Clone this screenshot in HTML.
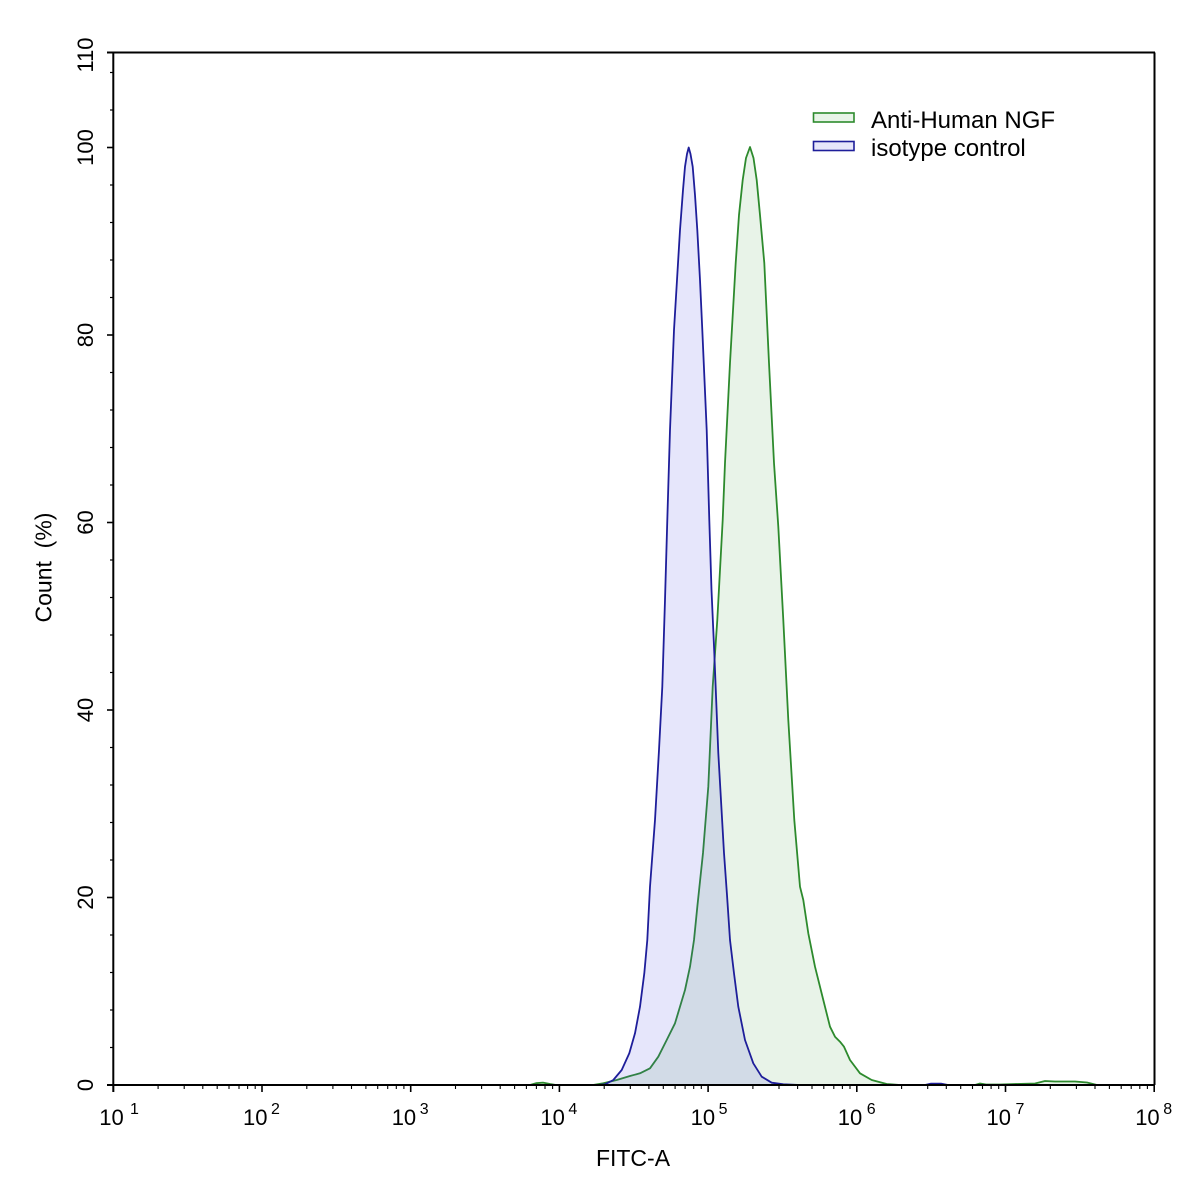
<!DOCTYPE html>
<html>
<head>
<meta charset="utf-8">
<style>
html,body{margin:0;padding:0;background:#fff;}
svg{display:block;}
text{font-family:"Liberation Sans",Arial,sans-serif;fill:#000;}
</style>
</head>
<body>
<svg width="1197" height="1193" viewBox="0 0 1197 1193" xmlns="http://www.w3.org/2000/svg">
<rect x="0" y="0" width="1197" height="1193" fill="#fff"/>

<!-- Green fill (Anti-Human NGF) -->
<path d="M490,1085 L530,1085 L536,1083.2 L543,1082.6 L550,1084 L556,1085 L585,1085 L593,1085 L603.3,1083.3 L616.7,1080 L630,1076 L640,1073.3 L650,1068.3 L658.3,1056.7 L666.7,1040 L675,1023.3 L685,990 L690,966.7 L694,940 L697.5,905 L703,853 L708.3,786.7 L712.7,686.7 L717.3,620 L722.7,520 L725,463 L730,363 L735.7,263 L739,215 L742.7,180 L746,158 L750,147 L753.5,158 L756.7,180 L760,215 L764.3,263 L769,363 L774,463 L778.3,526.7 L783.3,620 L788.3,720 L794.3,820 L800,886.7 L803.3,900 L808.3,933.3 L815,966.7 L823.3,1000 L830,1026.7 L835,1036.7 L840,1041.7 L844,1046.7 L850,1060 L860,1073.3 L871.7,1080 L886.7,1084 L900,1085 L975,1085 L980,1083.5 L986,1084.5 L1000,1084.5 L1015,1084 L1035,1083.5 L1045,1081 L1055,1081.5 L1075,1081.5 L1087,1082.5 L1097,1085 L1100,1085"
 fill="#50a050" fill-opacity="0.13" stroke="#2d8a2d" stroke-width="1.8" stroke-linejoin="round"/>

<!-- Blue fill (isotype control) -->
<path d="M598,1085 L605,1084.3 L613.3,1080 L621.7,1070 L629.3,1053.3 L635,1033.3 L640,1006.7 L644.3,973.3 L647.3,940 L650,886.7 L655,820 L659,750 L662.3,686.7 L665,600 L667.3,520 L670,430 L674,330 L677,280 L680,230 L683,190 L685,166.7 L687,154 L688.7,147.5 L690.5,154 L692.7,166.7 L695,195 L697.3,230 L700,280 L702.3,330 L706.7,430 L709.3,520 L711.5,590 L714.3,653 L718.3,753 L724,853 L727,895 L730,940 L734,973.3 L738.3,1006.7 L745,1040 L753.3,1063.3 L761.7,1076.7 L771.7,1082.7 L783.3,1084.3 L800,1085 L925,1085 L931,1083.6 L941,1083.6 L948,1085"
 fill="#5050e0" fill-opacity="0.14" stroke="#1e1e9a" stroke-width="1.8" stroke-linejoin="round"/>

<!-- Axes box -->
<g stroke="#000" stroke-width="2" fill="none">
<line x1="107" y1="52.5" x2="1155" y2="52.5"/>
<line x1="1154.5" y1="52.5" x2="1154.5" y2="1085"/>
<line x1="113.3" y1="52.5" x2="113.3" y2="1092"/>
<line x1="107" y1="1085" x2="1155" y2="1085"/>
</g>

<!-- Y ticks -->
<g stroke="#000" stroke-width="1.6">
<line x1="107" y1="1085" x2="113" y2="1085"/>
<line x1="107" y1="897.5" x2="113" y2="897.5"/>
<line x1="107" y1="710" x2="113" y2="710"/>
<line x1="107" y1="522.5" x2="113" y2="522.5"/>
<line x1="107" y1="335" x2="113" y2="335"/>
<line x1="107" y1="147.5" x2="113" y2="147.5"/>
</g>
<g stroke="#000" stroke-width="1.2">
<line x1="110" y1="1047.5" x2="113" y2="1047.5"/>
<line x1="110" y1="1010" x2="113" y2="1010"/>
<line x1="110" y1="972.5" x2="113" y2="972.5"/>
<line x1="110" y1="935" x2="113" y2="935"/>
<line x1="110" y1="860" x2="113" y2="860"/>
<line x1="110" y1="822.5" x2="113" y2="822.5"/>
<line x1="110" y1="785" x2="113" y2="785"/>
<line x1="110" y1="747.5" x2="113" y2="747.5"/>
<line x1="110" y1="672.5" x2="113" y2="672.5"/>
<line x1="110" y1="635" x2="113" y2="635"/>
<line x1="110" y1="597.5" x2="113" y2="597.5"/>
<line x1="110" y1="560" x2="113" y2="560"/>
<line x1="110" y1="485" x2="113" y2="485"/>
<line x1="110" y1="447.5" x2="113" y2="447.5"/>
<line x1="110" y1="410" x2="113" y2="410"/>
<line x1="110" y1="372.5" x2="113" y2="372.5"/>
<line x1="110" y1="297.5" x2="113" y2="297.5"/>
<line x1="110" y1="260" x2="113" y2="260"/>
<line x1="110" y1="222.5" x2="113" y2="222.5"/>
<line x1="110" y1="185" x2="113" y2="185"/>
<line x1="110" y1="110" x2="113" y2="110"/>
<line x1="110" y1="72.5" x2="113" y2="72.5"/>
</g>

<!-- Y labels -->
<g font-size="22" text-anchor="middle">
<text transform="translate(93,1085) rotate(-90)">0</text>
<text transform="translate(93,897.5) rotate(-90)">20</text>
<text transform="translate(93,710) rotate(-90)">40</text>
<text transform="translate(93,522.5) rotate(-90)">60</text>
<text transform="translate(93,335) rotate(-90)">80</text>
<text transform="translate(93,147.5) rotate(-90)">100</text>
<text transform="translate(93,55) rotate(-90)">110</text>
</g>
<text transform="translate(51.5,567.5) rotate(-90)" font-size="23" text-anchor="middle">Count&#160;&#160;(%)</text>

<!-- X ticks -->
<g stroke="#000" stroke-width="1.6">
<line x1="113.3" y1="1085" x2="113.3" y2="1092"/>
<line x1="262" y1="1085" x2="262" y2="1092"/>
<line x1="410.7" y1="1085" x2="410.7" y2="1092"/>
<line x1="559.4" y1="1085" x2="559.4" y2="1092"/>
<line x1="708.1" y1="1085" x2="708.1" y2="1092"/>
<line x1="856.8" y1="1085" x2="856.8" y2="1092"/>
<line x1="1005.5" y1="1085" x2="1005.5" y2="1092"/>
<line x1="1154.2" y1="1085" x2="1154.2" y2="1092"/>
</g>
<g stroke="#000" stroke-width="1.1" id="minor">
</g>
<script>
(function(){
  var g=document.getElementById('minor');
  var ns='http://www.w3.org/2000/svg';
  for(var d=0;d<7;d++){
    var X=113.3+148.7*d;
    for(var k=2;k<=9;k++){
      var x=X+148.7*Math.log10(k);
      var l=document.createElementNS(ns,'line');
      l.setAttribute('x1',x.toFixed(1));l.setAttribute('x2',x.toFixed(1));
      l.setAttribute('y1','1085');l.setAttribute('y2','1089');
      g.appendChild(l);
    }
  }
})();
</script>

<!-- X labels -->
<g font-size="22">
<text x="99.3" y="1125">10</text><text x="130" y="1114" font-size="16">1</text>
<text x="243" y="1125">10</text><text x="271" y="1114" font-size="16">2</text>
<text x="391.7" y="1125">10</text><text x="419.7" y="1114" font-size="16">3</text>
<text x="540.4" y="1125">10</text><text x="568.4" y="1114" font-size="16">4</text>
<text x="690.6" y="1125">10</text><text x="718.6" y="1114" font-size="16">5</text>
<text x="837.8" y="1125">10</text><text x="866.8" y="1114" font-size="16">6</text>
<text x="986.5" y="1125">10</text><text x="1015.5" y="1114" font-size="16">7</text>
<text x="1135.2" y="1125">10</text><text x="1163.2" y="1114" font-size="16">8</text>
</g>
<text x="633" y="1166" font-size="23" text-anchor="middle">FITC-A</text>

<!-- Legend -->
<rect x="813.5" y="113" width="40.5" height="9" fill="#e8f4e8" stroke="#2d8a2d" stroke-width="1.6"/>
<rect x="813.5" y="141.5" width="40.5" height="9" fill="#e6e6fa" stroke="#1e1e9a" stroke-width="1.6"/>
<text x="871" y="128" font-size="24">Anti-Human NGF</text>
<text x="871" y="156" font-size="24">isotype control</text>
</svg>
</body>
</html>
